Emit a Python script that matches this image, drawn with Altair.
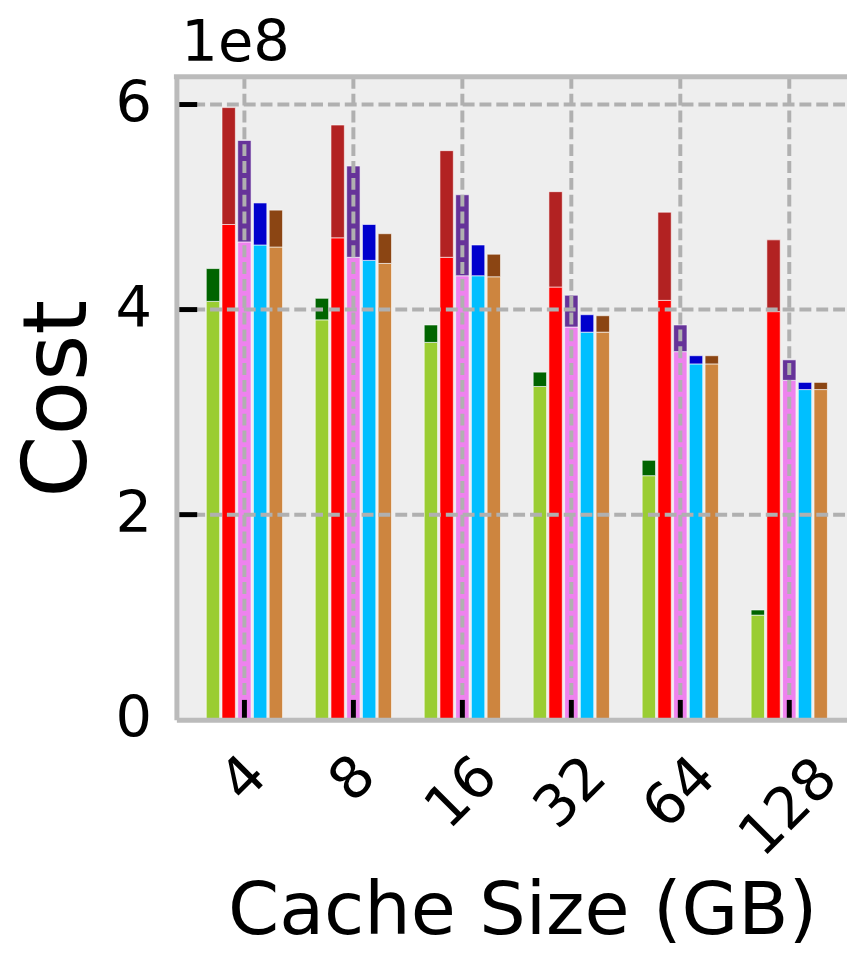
import altair as alt
import pandas as pd

sizes = ["4", "8", "16", "32", "64", "128"]
series = ["S1", "S2", "S3", "S4", "S5"]

green_base = [4.08, 3.90, 3.68, 3.25, 2.38, 1.02]
green_total = [4.40, 4.11, 3.85, 3.39, 2.53, 1.07]
red_base = [4.83, 4.70, 4.51, 4.22, 4.09, 3.98]
red_total = [5.97, 5.80, 5.55, 5.15, 4.95, 4.68]
violet_base = [4.66, 4.51, 4.33, 3.83, 3.59, 3.31]
violet_total = [5.65, 5.40, 5.12, 4.14, 3.85, 3.51]
blue_base = [4.63, 4.48, 4.33, 3.78, 3.47, 3.22]
blue_total = [5.04, 4.83, 4.63, 3.95, 3.55, 3.29]
brown_base = [4.61, 4.45, 4.32, 3.78, 3.47, 3.22]
brown_total = [4.97, 4.74, 4.54, 3.94, 3.55, 3.29]

base_colors = ["#9acd32", "#ff0000", "#ee82ee", "#00bfff", "#cd853f"]
top_colors = ["#006400", "#b22222", "#663399", "#0000cd", "#8b4513"]

y_ticks = [0, 2e8, 4e8, 6e8]

bases = [green_base, red_base, violet_base, blue_base, brown_base]
totals = [green_total, red_total, violet_total, blue_total, brown_total]

rows = []
for si, s in enumerate(series):
    for gi, g in enumerate(sizes):
        b = bases[si][gi]
        t = totals[si][gi]
        rows.append(dict(size=g, series=s, ord=0, value=b * 1e8, key=f"{s}_base"))
        rows.append(dict(size=g, series=s, ord=1, value=(t - b) * 1e8, key=f"{s}_top"))
df = pd.DataFrame(rows)

keys = []
cols = []
for si, s in enumerate(series):
    keys += [f"{s}_base", f"{s}_top"]
    cols += [base_colors[si], top_colors[si]]

W = 677
H = 649
FONT = "DejaVu Sans"
GRID = "#b0b0b0"

x_scale = alt.Scale(domain=sizes, paddingInner=0.30, paddingOuter=0.227, align=0.604)
y_scale = alt.Scale(domain=[0, 6.27e8], nice=False, zero=True)

common = dict(grid=False, domainColor="#bbbbbb", domainWidth=5, ticks=False,
              labelColor="black", labelFont=FONT, titleFont=FONT, titleColor="black",
              titleFontWeight="normal", zindex=1)

x_axis = alt.Axis(title="Cache Size (GB)", labelAngle=315, labelAlign="center",
                  labelBaseline="middle",
                  labelPadding={"condition": [
                      {"test": "length(datum.label) >= 3", "value": 89},
                      {"test": "length(datum.label) == 2", "value": 74}],
                      "value": 60},
                  labelFontSize=58,
                  titleFontSize=74, titleX=349, titleY=216,
                  titleBaseline="alphabetic", titleAlign="center", **common)
y_axis = alt.Axis(title="Cost", values=y_ticks, labelExpr="format(datum.value/1e8, 'd')",
                  labelFontSize=58, labelPadding=25, titleFontSize=90, titleAngle=270,
                  titleX=-92, titleY=H / 2, titleAlign="center", titleBaseline="alphabetic",
                  **common)

bars = alt.Chart(df).mark_bar(stroke="white", strokeWidth=1, strokeOpacity=0.6).encode(
    x=alt.X("size:N", scale=x_scale, axis=x_axis),
    xOffset=alt.XOffset("series:N", scale=alt.Scale(domain=series, paddingInner=0.15)),
    y=alt.Y("value:Q", stack="zero", scale=y_scale, axis=y_axis),
    color=alt.Color("key:N", scale=alt.Scale(domain=keys, range=cols), legend=None),
    order=alt.Order("ord:Q"),
)

size_df = pd.DataFrame({"size": sizes})
ytick_df = pd.DataFrame({"value": y_ticks})
ytick_inner = ytick_df[ytick_df["value"] > 0]

xgrid = alt.Chart(size_df).mark_rule(color=GRID, strokeWidth=4, strokeDash=[12, 5]).encode(
    x=alt.X("size:N", scale=x_scale, axis=x_axis),
    y=alt.value(0),
    y2=alt.value(H),
)

ygrid = alt.Chart(ytick_inner).mark_rule(color=GRID, strokeWidth=4, strokeDash=[12, 5]).encode(
    y=alt.Y("value:Q", scale=y_scale, axis=y_axis),
    x=alt.value(0),
    x2=alt.value(W),
)

xt = alt.Chart(size_df).mark_rule(color="black", strokeWidth=5).encode(
    x=alt.X("size:N", scale=x_scale, axis=x_axis),
    y=alt.value(H - 20),
    y2=alt.value(H),
)

yt = alt.Chart(ytick_inner).mark_rule(color="black", strokeWidth=5).encode(
    y=alt.Y("value:Q", scale=y_scale, axis=y_axis),
    x=alt.value(0),
    x2=alt.value(21),
)

top_border = alt.Chart(pd.DataFrame({"a": [0]})).mark_rule(color="#bbbbbb", strokeWidth=5).encode(
    x=alt.value(-2.5), x2=alt.value(W), y=alt.value(0)
)

offset_text = alt.Chart(pd.DataFrame({"t": ["1e8"]})).mark_text(
    fontSize=58, font=FONT, align="left", baseline="alphabetic", color="black"
).encode(x=alt.value(5), y=alt.value(-16), text="t:N")

chart = alt.layer(bars, xgrid, ygrid, xt, yt, top_border, offset_text).properties(
    width=W, height=H,
    autosize=alt.AutoSizeParams(type="none"),
    padding={"left": 170, "top": 65, "right": 0, "bottom": 230},
    background="white",
).configure_view(fill="#eeeeee", stroke="transparent")

chart.save("out.html", embed_options={"renderer": "svg", "actions": False})
